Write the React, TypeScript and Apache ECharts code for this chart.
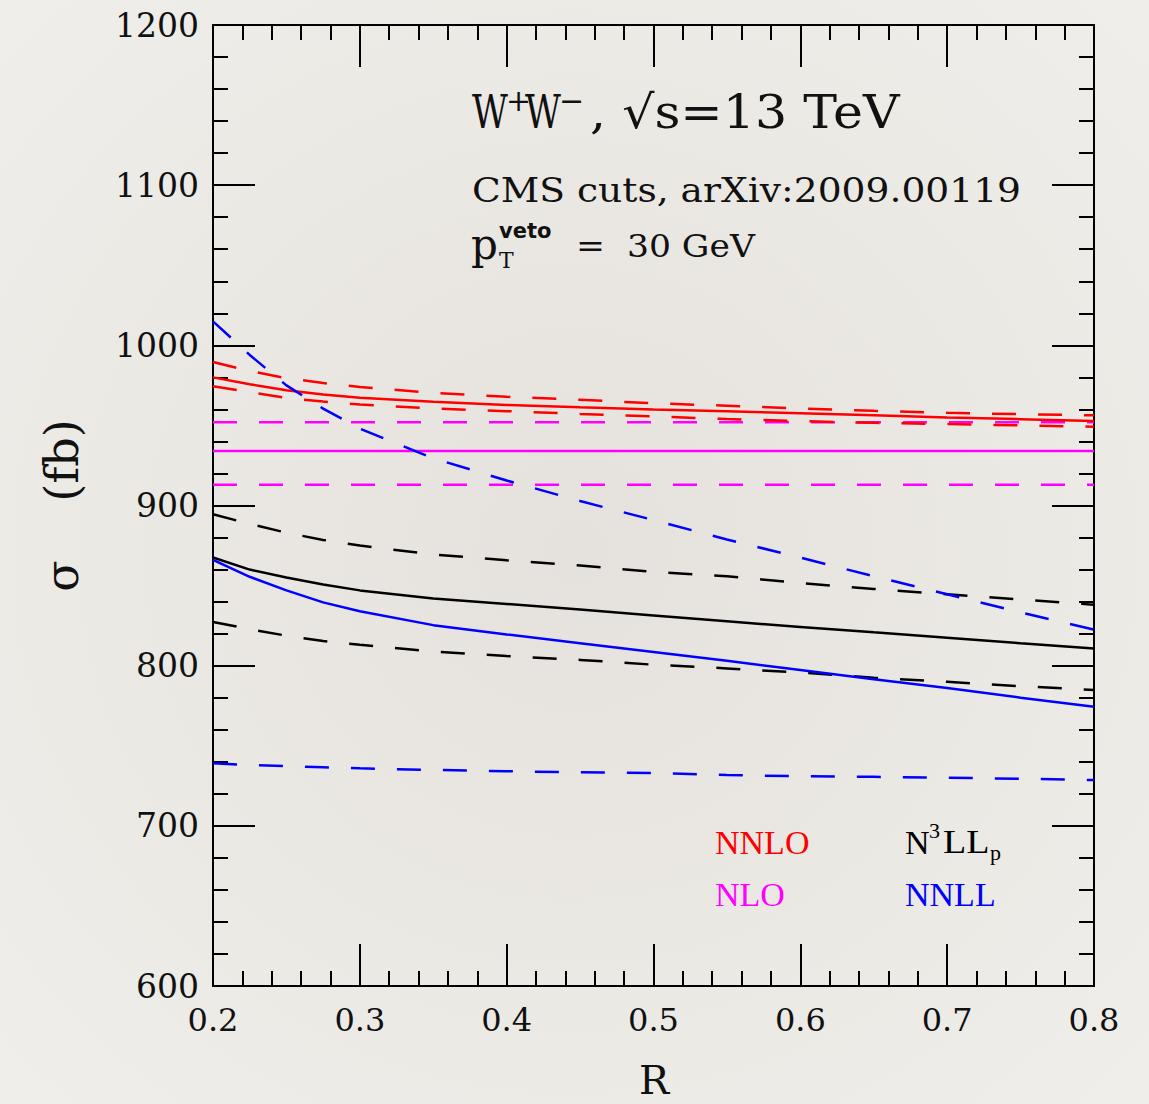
import React, { useEffect, useRef } from "react";
import * as echarts from "echarts";

// ---- data ----
const R = [0.2, 0.225, 0.25, 0.275, 0.3, 0.35, 0.4, 0.45, 0.5, 0.55, 0.6, 0.65, 0.7, 0.75, 0.8];

const nnloCentral = [980, 975.7, 972, 969.3, 967.2, 964.7, 962.8, 961.3, 960, 958.8, 957.6, 956.3, 955, 953.9, 952.8];
const nnloUpper = [989.6, 984, 979.5, 976.5, 974, 970.3, 967.9, 966, 963.8, 962.3, 960.6, 959.1, 957.9, 957, 956.3];
const nnloLower = [974.4, 970.8, 967.2, 964.9, 963.1, 960.6, 958.9, 957.2, 955.6, 954, 952.7, 951.6, 950.9, 950, 949.2];

const nloR = [0.2, 0.8];
const nloCentral = [934, 934];
const nloUpper = [952, 952];
const nloLower = [913, 913];

const n3llCentral = [867.5, 860, 855, 850.7, 847, 842, 838.5, 835, 831.3, 827.7, 824.2, 820.8, 817.5, 814, 810.7];
const n3llUpper = [894.5, 888.5, 883, 878.5, 875, 869.4, 865.8, 862.6, 858.5, 855.8, 851.6, 847.9, 844.6, 841.3, 838];
const n3llLower = [827.3, 822.8, 818.7, 815.4, 813, 808.8, 806, 803.6, 800.6, 798.3, 795.7, 792.5, 789.9, 787.2, 784.8];

const nnllCentral = [866, 855.5, 847, 839.5, 834, 825.3, 819.5, 814, 808.5, 803, 797.3, 791.5, 786, 780, 774.3];
const nnllUpper = [1015, 994, 975, 960.5, 948, 929.5, 915.6, 902.8, 890.9, 878.8, 867.5, 855.8, 844.6, 833.3, 822.5];
const nnllLower = [739, 738, 737.3, 736.6, 735.9, 734.9, 734.1, 733.4, 733, 731.7, 731, 730.6, 730, 729.4, 728.6];

const xTickLabels = ["0.2", "0.3", "0.4", "0.5", "0.6", "0.7", "0.8"];

const SERIF = "'DejaVu Serif', serif";
const TIMES = "'Liberation Serif', serif";
const INK = "#111111";
const RED = "#ff0000";
const MAGENTA = "#ff00ff";
const BLUE = "#0000ff";
const BLACK = "#000000";
const DASH = [24, 22];

function line(name: string, xs: number[], ys: number[], color: string, dashed: boolean) {
  return {
    name,
    type: "line",
    data: xs.map((x, i) => [x, ys[i]]),
    showSymbol: false,
    symbol: "none",
    silent: true,
    clip: true,
    lineStyle: { color, width: 2.5, type: dashed ? DASH : "solid" },
    itemStyle: { color },
  };
}

function axisCommon(showLabels: boolean) {
  return {
    axisLine: { show: true, onZero: false, lineStyle: { color: BLACK, width: 2 } },
    axisTick: { show: true, inside: true, length: 42, lineStyle: { color: BLACK, width: 2 } },
    minorTick: { show: true, splitNumber: 5, length: 15, lineStyle: { color: BLACK, width: 2 } },
    splitLine: { show: false },
    minorSplitLine: { show: false },
    axisLabel: { show: showLabels },
  };
}

function txt(x: number, y: number, text: string, fontSize: number, fill: string, family = SERIF, extra: any = {}) {
  const { scaleX, ...style } = extra;
  return {
    type: "text",
    x,
    y,
    scaleX: scaleX ?? 1,
    silent: true,
    style: { text, fontFamily: family, fontSize, fill, verticalAlign: "middle", align: "left", ...style },
  };
}

export default function App() {
  const ref = useRef<HTMLDivElement>(null);
  useEffect(() => {
    if (!ref.current) return;
    const chart = echarts.init(ref.current, undefined, { renderer: "svg" });
    const xBase = { type: "value", min: 0.2, max: 0.8, interval: 0.1 };
    const yBase = { type: "value", min: 600, max: 1200, interval: 100 };
    const option: any = {
      animation: false,
      backgroundColor: {
        type: "radial",
        x: 0.5,
        y: 0.5,
        r: 0.75,
        colorStops: [
          { offset: 0, color: "#e5e2dd" },
          { offset: 1, color: "#f1efeb" },
        ],
      },
      grid: { left: 213, top: 25, right: 55, bottom: 118, containLabel: false, outerBoundsMode: "none" },
      xAxis: [
        {
          ...xBase,
          ...axisCommon(true),
          position: "bottom",
          axisLabel: {
            show: true,
            margin: 18,
            fontFamily: SERIF,
            fontSize: 32,
            color: INK,
            showMinLabel: true,
            showMaxLabel: true,
            formatter: (v: number) => {
              const i = Math.round((v - 0.2) / 0.1);
              return xTickLabels[i] ?? v.toFixed(1);
            },
          },
        },
        { ...xBase, ...axisCommon(false), position: "top" },
      ],
      yAxis: [
        {
          ...yBase,
          ...axisCommon(true),
          position: "left",
          name: "σ    (fb)",
          nameLocation: "middle",
          nameRotate: 90,
          nameGap: 128,
          nameTextStyle: { fontFamily: SERIF, fontSize: 46, color: INK },
          axisLabel: {
            show: true,
            margin: 14,
            fontFamily: SERIF,
            fontSize: 33,
            color: INK,
            showMinLabel: true,
            showMaxLabel: true,
            formatter: (v: number) => String(Math.round(v)),
          },
        },
        { ...yBase, ...axisCommon(false), position: "right" },
      ],
      series: [
        line("NLO upper", nloR, nloUpper, MAGENTA, true),
        line("NLO", nloR, nloCentral, MAGENTA, false),
        line("NLO lower", nloR, nloLower, MAGENTA, true),
        line("NNLO upper", R, nnloUpper, RED, true),
        line("NNLO", R, nnloCentral, RED, false),
        line("NNLO lower", R, nnloLower, RED, true),
        line("N3LLp upper", R, n3llUpper, BLACK, true),
        line("N3LLp", R, n3llCentral, BLACK, false),
        line("N3LLp lower", R, n3llLower, BLACK, true),
        line("NNLL upper", R, nnllUpper, BLUE, true),
        line("NNLL", R, nnllCentral, BLUE, false),
        line("NNLL lower", R, nnllLower, BLUE, true),
      ],
      graphic: [
        // x-axis title
        txt(654, 1080, "R", 40, INK, SERIF, { align: "center" }),
        // title line 1: W+W-, sqrt(s)=13 TeV
        txt(472, 112, "W", 46, INK, SERIF, { scaleX: 0.76 }),
        txt(506, 100, "+", 30, INK),
        txt(525, 112, "W", 46, INK, SERIF, { scaleX: 0.76 }),
        txt(559, 100, "−", 30, INK),
        txt(590, 112, ", √s=13 TeV", 46, INK, SERIF, { scaleX: 1.1 }),
        // line 2
        txt(472, 190, "CMS cuts, arXiv:2009.00119", 33, INK, SERIF, { scaleX: 1.14 }),
        // line 3
        txt(471, 244, "p", 42, INK),
        txt(499, 260, "T", 22, INK),
        txt(499, 231, "veto", 21, INK, "'DejaVu Sans', sans-serif", { fontWeight: "bold" }),
        txt(576, 246, "=  30 GeV", 32, INK, SERIF, { scaleX: 1.08 }),
        // legend texts
        txt(715, 842, "NNLO", 34, RED, TIMES),
        txt(715, 894, "NLO", 34, MAGENTA, TIMES),
        txt(905, 842, "N", 34, BLACK, TIMES),
        txt(929, 830, "3", 22, BLACK, TIMES),
        txt(943, 842, "LL", 34, BLACK, TIMES, { scaleX: 1.12 }),
        txt(990, 852, "p", 22, BLACK, TIMES),
        txt(905, 894, "NNLL", 34, BLUE, TIMES),
      ],
    };
    chart.setOption(option);
    return () => chart.dispose();
  }, []);
  return <div ref={ref} style={{ position: "absolute", left: 0, top: 0, width: 1149, height: 1104 }} />;
}
